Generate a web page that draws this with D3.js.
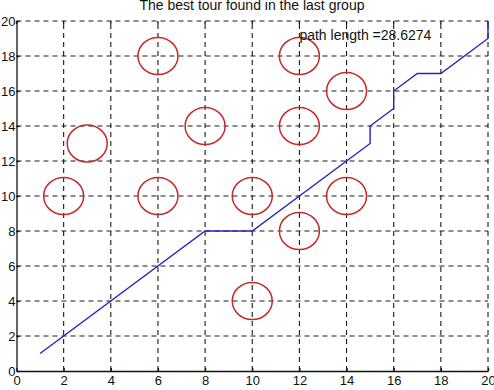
<!DOCTYPE html>
<html>
<head>
<meta charset="utf-8">
<script src="https://cdn.jsdelivr.net/npm/d3@7"></script>
<style>
  body { margin: 0; background: #fff; }
  svg { display: block; font-family: "Liberation Sans", Arial, sans-serif; }
</style>
</head>
<body>
<div class="chart"></div>
<script>
// cities (red circles)
const cityX = [2, 3, 6, 6, 8, 10, 10, 12, 12, 12, 14, 14]
const cityY = [10, 13, 18, 10, 14, 10, 4, 18, 14, 8, 16, 10]

// best tour path (blue line)
const tourX = [1, 8, 10, 15, 15, 16, 16, 17, 18, 20, 20]
const tourY = [1, 8, 8, 13, 14, 15, 16, 17, 17, 19, 20]

const ticks = [0, 2, 4, 6, 8, 10, 12, 14, 16, 18, 20]
const title = "The best tour found in the last group"
const note = "path length =28.6274"

const width = 494, height = 390
const margin = {top: 21, right: 6, bottom: 19, left: 16.5}

const svg = d3.select(".chart")
  .append("svg")
    .attr("width", width)
    .attr("height", height)

const x = d3.scaleLinear().domain([0, 20]).range([margin.left, width - margin.right])
const y = d3.scaleLinear().domain([0, 20]).range([height - margin.bottom, margin.top])

// dashed grid
svg.append("g")
  .selectAll("line")
  .data(ticks.slice(1))
  .join("line")
    .attr("x1", d => x(d)).attr("x2", d => x(d))
    .attr("y1", y(0)).attr("y2", y(20))
    .attr("stroke", "#1a1a1a")
    .attr("stroke-width", 1.1)
    .attr("stroke-dasharray", "5,4")
svg.append("g")
  .selectAll("line")
  .data(ticks.slice(1))
  .join("line")
    .attr("x1", x(0)).attr("x2", x(20))
    .attr("y1", d => y(d)).attr("y2", d => y(d))
    .attr("stroke", "#1a1a1a")
    .attr("stroke-width", 1.1)
    .attr("stroke-dasharray", "5,4")

// axes (ticks pointing inward)
const xAxis = svg.append("g")
  .attr("transform", `translate(0,${y(0)})`)
  .call(d3.axisBottom(x).tickValues(ticks).tickSize(-3).tickPadding(5).tickSizeOuter(0))
const yAxis = svg.append("g")
  .attr("transform", `translate(${x(0)},0)`)
  .call(d3.axisLeft(y).tickValues(ticks).tickSize(-3).tickPadding(1).tickSizeOuter(0))
for (const ax of [xAxis, yAxis]) {
  ax.select(".domain").attr("stroke", "#111").attr("stroke-width", 1.3)
  ax.selectAll(".tick line").attr("stroke", "#111").attr("stroke-width", 1.3)
  ax.selectAll("text").attr("font-size", 13).attr("fill", "#111")
    .attr("font-family", "\"Liberation Sans\", Arial, sans-serif")
}

// top ticks
svg.append("g")
  .selectAll("line")
  .data(ticks)
  .join("line")
    .attr("x1", d => x(d)).attr("x2", d => x(d))
    .attr("y1", y(20)).attr("y2", y(20) + 3)
    .attr("stroke", "#111").attr("stroke-width", 1.3)

// cities
svg.append("g")
  .selectAll("ellipse")
  .data(cityX.map((d, i) => [d, cityY[i]]))
  .join("ellipse")
    .attr("cx", d => x(d[0]))
    .attr("cy", d => y(d[1]))
    .attr("rx", 20)
    .attr("ry", 18.5)
    .attr("fill", "none")
    .attr("stroke", "#c8282a")
    .attr("stroke-width", 1.5)

// tour
const line = d3.line().x(d => x(d[0])).y(d => y(d[1]))
svg.append("path")
  .datum(tourX.map((d, i) => [d, tourY[i]]))
  .attr("d", line)
  .attr("fill", "none")
  .attr("stroke", "#2424c0")
  .attr("stroke-width", 1.4)

// texts
svg.append("text")
  .attr("x", 252).attr("y", 10)
  .attr("text-anchor", "middle")
  .attr("font-size", 14)
  .attr("fill", "#111")
  .text(title)
svg.append("text")
  .attr("x", x(12)).attr("y", 40)
  .attr("font-size", 14)
  .attr("fill", "#111")
  .text(note)
</script>
</body>
</html>
